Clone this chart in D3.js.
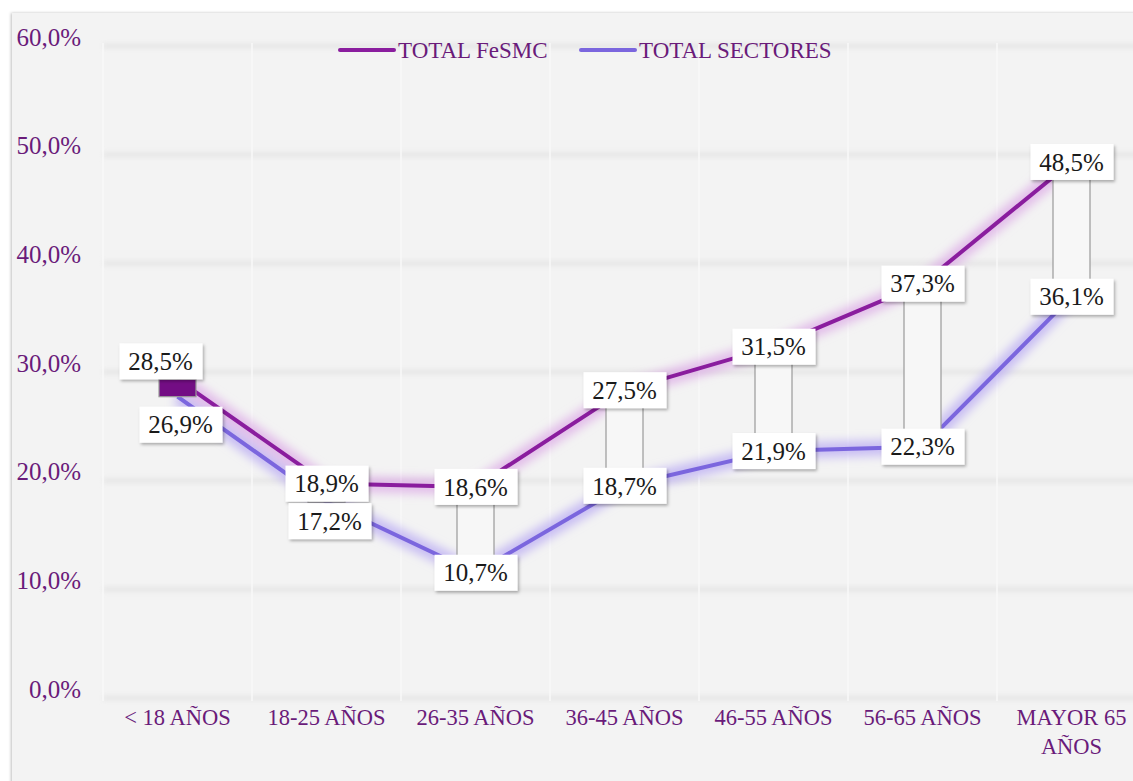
<!DOCTYPE html>
<html>
<head>
<meta charset="utf-8">
<script src="https://cdn.jsdelivr.net/npm/d3@7"></script>
<style>
  body { margin: 0; background: #fff; }
  text { font-family: "Liberation Serif", "DejaVu Serif", serif; }
</style>
</head>
<body>
<div id="chart"></div>
<script>
// chart values
var categories = ["< 18 AÑOS", "18-25 AÑOS", "26-35 AÑOS", "36-45 AÑOS", "46-55 AÑOS", "56-65 AÑOS", "MAYOR 65 AÑOS"];
var fesmc = [28.5, 18.9, 18.6, 27.5, 31.5, 37.3, 48.5];
var sectores = [26.9, 17.2, 10.7, 18.7, 21.9, 22.3, 36.1];
var yTicks = [0, 10, 20, 30, 40, 50, 60];
var seriesNames = ["TOTAL FeSMC", "TOTAL SECTORES"];

var W = 1133, H = 781;
var colFesmc = "#8a1d9e", colSect = "#7b66de", axisCol = "#6a1b7a";

var es = d3.formatLocale({decimal: ",", thousands: ".", grouping: [3], currency: ["", "€"]});
var pct = function(v) { return es.format(".1f")(v) + "%"; };

var svg = d3.select("#chart")
  .append("svg")
    .attr("width", W)
    .attr("height", H);

var defs = svg.append("defs");
defs.append("filter").attr("id", "panelShadow")
  .attr("x", "-5%").attr("y", "-5%").attr("width", "110%").attr("height", "110%")
  .append("feDropShadow").attr("dx", -1).attr("dy", 0).attr("stdDeviation", 1.5)
  .attr("flood-color", "#000").attr("flood-opacity", 0.25);
defs.append("filter").attr("id", "blur")
  .attr("x", "-20%").attr("y", "-50%").attr("width", "140%").attr("height", "200%")
  .append("feGaussianBlur").attr("stdDeviation", 5);
defs.append("filter").attr("id", "gridBlur")
  .attr("filterUnits", "userSpaceOnUse")
  .attr("x", 0).attr("y", 0).attr("width", W).attr("height", H)
  .append("feGaussianBlur").attr("stdDeviation", 2);
defs.append("filter").attr("id", "boxShadow")
  .attr("x", "-20%").attr("y", "-30%").attr("width", "140%").attr("height", "160%")
  .append("feDropShadow").attr("dx", 1.5).attr("dy", 2).attr("stdDeviation", 1.5)
  .attr("flood-color", "#000").attr("flood-opacity", 0.3);

// background panel
svg.append("rect")
  .attr("x", 12).attr("y", 13).attr("width", W).attr("height", H)
  .attr("fill", "#f3f3f3")
  .attr("filter", "url(#panelShadow)");

// scales
var x = d3.scaleBand()
  .domain(categories)
  .range([103, 1146]);
var y = d3.scaleLinear()
  .domain([0, 60])
  .range([689, 37]);
var cx = function(i) { return x(categories[i]) + x.bandwidth() / 2; };

// gridlines (soft shadowed bands)
var grid = svg.append("g").attr("filter", "url(#gridBlur)");
grid.selectAll("line.shadow")
  .data(yTicks)
  .enter().append("line")
    .attr("class", "shadow")
    .attr("x1", x.range()[0]).attr("x2", x.range()[1])
    .attr("y1", function(d) { return y(d) + 9; })
    .attr("y2", function(d) { return y(d) + 9; })
    .attr("stroke", "#e8e8e8")
    .attr("stroke-width", 6);
svg.append("g").selectAll("line.v")
  .data(categories)
  .enter().append("line")
    .attr("class", "v")
    .attr("x1", function(d) { return x(d); }).attr("x2", function(d) { return x(d); })
    .attr("y1", y(60) + 6).attr("y2", y(0) + 12)
    .attr("stroke", "#f8f8f8")
    .attr("stroke-width", 1.5);

// Y axis
var yAxis = svg.append("g")
  .attr("transform", "translate(88,0)")
  .call(d3.axisLeft(y).tickValues(yTicks).tickSize(0).tickPadding(7).tickFormat(pct));
yAxis.select(".domain").remove();
yAxis.selectAll("text")
  .attr("fill", axisCol)
  .style("font-size", "25px")
  .style("font-family", "Liberation Serif");

// X axis
var xAxis = svg.append("g")
  .attr("transform", "translate(0,709)")
  .call(d3.axisBottom(x).tickSize(0).tickPadding(0));
xAxis.select(".domain").remove();
xAxis.selectAll("text")
  .attr("fill", axisCol)
  .style("font-size", "22.5px")
  .style("font-family", "Liberation Serif")
  .call(wrap, 140);

function wrap(texts, width) {
  texts.each(function() {
    var t = d3.select(this),
        words = t.text().split(/\s+/),
        line = [];
    t.text(null);
    var tspan = t.append("tspan").attr("x", 0).attr("dy", "0.71em");
    words.forEach(function(w) {
      line.push(w);
      tspan.text(line.join(" "));
      if (tspan.node().getComputedTextLength() > width && line.length > 1) {
        line.pop();
        tspan.text(line.join(" "));
        line = [w];
        tspan = t.append("tspan").attr("x", 0).attr("dy", "1.3em").text(w);
      }
    });
  });
}

// lines with glow
var line = d3.line()
  .x(function(d, i) { return cx(i); })
  .y(function(d) { return y(d); });

[[sectores, "#b6a6f4"], [fesmc, "#dba6e6"]].forEach(function(s) {
  svg.append("path")
    .datum(s[0])
    .attr("fill", "none")
    .attr("stroke", s[1])
    .attr("stroke-opacity", 0.7)
    .attr("stroke-width", 16)
    .attr("filter", "url(#blur)")
    .attr("d", line);
});
[[sectores, colSect], [fesmc, colFesmc]].forEach(function(s) {
  svg.append("path")
    .datum(s[0])
    .attr("fill", "none")
    .attr("stroke", s[1])
    .attr("stroke-width", 4)
    .attr("stroke-linejoin", "round")
    .attr("d", line);
});

// up/down bars
var barW = 37;
svg.selectAll("rect.updown")
  .data(categories)
  .enter().append("rect")
    .attr("class", "updown")
    .attr("x", function(d, i) { return cx(i) - barW / 2; })
    .attr("y", function(d, i) { return y(Math.max(fesmc[i], sectores[i])); })
    .attr("width", barW)
    .attr("height", function(d, i) { return Math.abs(y(fesmc[i]) - y(sectores[i])); })
    .attr("fill", function(d, i) { return i === 0 ? "#730d84" : "#f7f7f7"; })
    .attr("stroke", "#9a9a9a")
    .attr("stroke-width", 1.2);

// data labels (a few nudged apart where they would overlap)
var nudge = {"0-0": [-17, -18], "0-1": [3, 28], "1-1": [3, 19]};
var labels = [];
[fesmc, sectores].forEach(function(arr, si) {
  arr.forEach(function(v, i) {
    var n = nudge[i + "-" + si] || [0, 0];
    labels.push({v: v, x: cx(i) + n[0], y: y(v) + n[1]});
  });
});
var lab = svg.selectAll("g.lab")
  .data(labels)
  .enter().append("g")
    .attr("class", "lab")
    .attr("transform", function(d) { return "translate(" + d.x + "," + d.y + ")"; });
lab.append("rect")
  .attr("x", -41).attr("y", -18)
  .attr("width", 83).attr("height", 36)
  .attr("fill", "#fff")
  .attr("filter", "url(#boxShadow)");
lab.append("text")
  .attr("text-anchor", "middle")
  .attr("dy", "0.35em")
  .attr("fill", "#1a1a1a")
  .style("font-size", "25px")
  .text(function(d) { return pct(d.v); });

// legend
var legend = svg.append("g").attr("transform", "translate(340,50)");
var legX = [0, 241];
seriesNames.forEach(function(name, i) {
  var g = legend.append("g").attr("transform", "translate(" + legX[i] + ",0)");
  g.append("line")
    .attr("x1", 0).attr("x2", 54)
    .attr("stroke", i === 0 ? colFesmc : colSect)
    .attr("stroke-width", 4)
    .attr("stroke-linecap", "round");
  g.append("text")
    .attr("x", 58)
    .attr("dy", "0.35em")
    .attr("fill", axisCol)
    .style("font-size", "23px")
    .text(name);
});
</script>
</body>
</html>
